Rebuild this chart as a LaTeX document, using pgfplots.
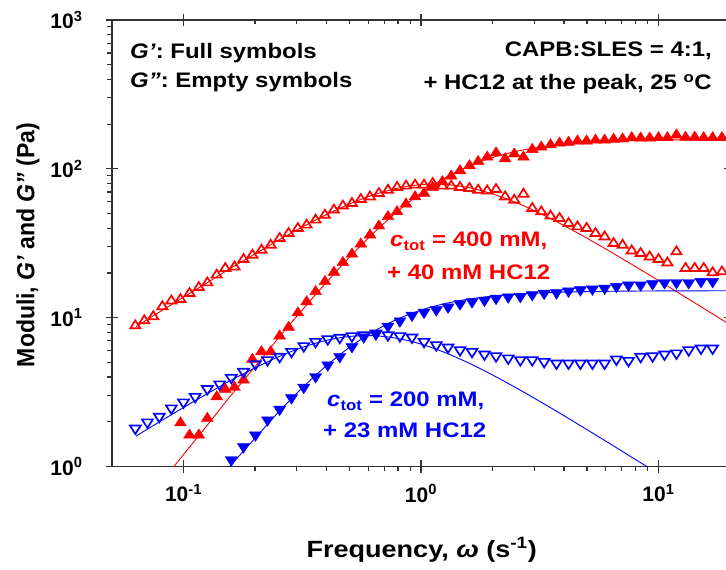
\documentclass[border=0pt]{standalone}
\usepackage{fontspec}
\setmainfont{Liberation Sans}
\usepackage{pgfplots}
\pgfplotsset{compat=1.18}
\usepackage{pgfplotstable}
\definecolor{myred}{RGB}{255,0,0}
\definecolor{myblue}{RGB}{0,0,255}
\newcommand{\fs}[1]{\fontsize{#1}{#1}\selectfont\bfseries}

\pgfplotstableread{
x y
0.0627 8.85
0.0684 9.57
0.0746 10.2
0.0815 11.9
0.0889 13.0
0.0971 13.3
0.106 14.6
0.116 16.0
0.126 17.2
0.138 19.4
0.150 21.5
0.164 22.0
0.179 24.7
0.195 26.4
0.213 28.5
0.233 30.8
0.254 34.2
0.277 36.9
0.303 39.9
0.330 42.0
0.360 45.4
0.394 49.0
0.430 53.0
0.469 56.4
0.512 58.7
0.558 62.5
0.610 65.0
0.665 68.5
0.726 72.1
0.793 75.2
0.865 76.8
0.944 78.0
1.03 78.0
1.12 80.0
1.23 76.8
1.34 76.8
1.46 75.2
1.60 74.1
1.74 72.1
1.90 71.3
2.07 72.9
2.26 65.0
2.47 61.8
2.70 67.8
2.94 54.4
3.21 51.6
3.51 48.3
3.83 46.6
4.18 43.1
4.56 40.9
4.98 39.9
5.43 36.9
5.93 35.0
6.47 31.6
7.06 30.8
7.71 28.2
8.41 27.1
9.18 25.7
10.0 24.7
10.9 23.4
11.9 27.8
13.0 21.5
14.2 21.5
15.5 21.5
16.9 20.1
18.5 20.4
}\redGpp

\pgfplotstableread{
x y
0.0971 1.97
0.106 1.63
0.116 1.63
0.126 2.11
0.138 2.95
0.150 3.31
0.164 3.41
0.179 3.82
0.195 5.26
0.213 5.92
0.233 5.92
0.254 7.55
0.277 8.64
0.303 10.8
0.330 12.8
0.360 15.0
0.394 17.5
0.430 20.2
0.469 23.5
0.512 26.8
0.558 31.3
0.610 36.0
0.665 41.4
0.726 47.8
0.793 51.6
0.865 58.1
0.944 65.0
1.03 68.6
1.12 75.2
1.23 82.0
1.34 89.6
1.46 97.2
1.60 105
1.74 112
1.90 120
2.07 128
2.26 117
2.47 126
2.70 120
2.94 135
3.21 140
3.51 145
3.83 149
4.18 151
4.56 154
4.98 154
5.43 156
5.93 156
6.47 158
7.06 159
7.71 162
8.41 161
9.18 161
10.0 162
10.9 162
11.9 169
13.0 163
14.2 163
15.5 162
16.9 162
18.5 162
}\redGp

\pgfplotstableread{
x y
0.0627 1.81
0.0705 1.99
0.0791 2.17
0.0889 2.47
0.100 2.71
0.112 2.95
0.126 3.33
0.142 3.58
0.159 3.96
0.179 4.35
0.201 4.89
0.226 5.21
0.254 5.48
0.285 5.92
0.321 6.47
0.360 6.91
0.405 7.20
0.455 7.37
0.512 7.55
0.574 7.66
0.646 7.87
0.726 7.66
0.815 7.55
0.916 7.40
1.03 6.91
1.16 6.57
1.30 6.34
1.46 6.08
1.64 5.92
1.85 5.69
2.07 5.54
2.33 5.35
2.62 5.21
2.94 5.21
3.30 5.07
3.72 4.95
4.18 4.95
4.69 4.95
5.27 4.95
5.93 4.95
6.65 5.26
7.48 5.15
8.41 5.48
9.44 5.54
10.6 5.69
11.9 5.78
13.4 6.08
15.1 6.24
16.9 6.24
}\blueGpp

\pgfplotstableread{
x y
0.159 1.11
0.179 1.36
0.201 1.63
0.226 2.06
0.254 2.43
0.285 2.90
0.321 3.41
0.360 4.02
0.405 4.82
0.455 5.48
0.512 6.40
0.574 7.43
0.646 7.78
0.726 8.77
0.815 9.52
0.916 10.4
1.03 10.9
1.16 11.3
1.30 11.8
1.46 12.4
1.64 12.8
1.85 13.1
2.07 13.5
2.33 13.8
2.62 13.9
2.94 14.3
3.30 14.6
3.72 14.7
4.18 15.1
4.69 15.4
5.27 15.6
5.93 15.8
6.65 16.2
7.48 16.6
8.41 16.6
9.44 16.9
10.6 17.2
11.9 17.2
13.4 17.2
15.1 17.5
16.9 17.5
}\blueGp

\pgfplotstableread{
x gp gpp
0.0631 0.482 8.71
0.0794 0.764 10.96
0.1 1.206 13.75
0.126 1.903 17.23
0.158 2.995 21.55
0.2 4.694 26.83
0.251 7.313 33.20
0.316 11.28 40.69
0.398 17.17 49.16
0.501 25.58 58.20
0.631 37.04 66.94
0.794 51.62 74.10
1.0 68.69 78.33
1.259 86.80 78.61
1.585 104.1 74.90
1.995 119.1 68.07
2.512 131.0 59.47
3.162 139.8 50.42
3.981 146.0 41.82
5.012 150.2 34.17
6.31 153.0 27.65
7.943 154.8 22.22
10.0 156.0 17.79
12.59 156.7 14.19
15.85 157.2 11.31
19.95 157.5 9.00
}\redfit

\pgfplotstableread{
x gp gpp
0.0631 0.171 1.604
0.0794 0.269 2.005
0.1 0.422 2.497
0.126 0.659 3.094
0.158 1.018 3.799
0.2 1.553 4.603
0.251 2.322 5.468
0.316 3.379 6.320
0.398 4.738 7.041
0.501 6.352 7.497
0.631 8.090 7.586
0.794 9.779 7.280
1.0 11.26 6.660
1.259 12.45 5.850
1.585 13.34 4.979
1.995 13.97 4.141
2.512 14.40 3.391
3.162 14.69 2.747
3.981 14.87 2.210
5.012 14.99 1.769
6.31 15.07 1.413
7.943 15.12 1.125
10.0 15.15 0.896
12.59 15.17 0.713
15.85 15.18 0.567
19.95 15.19 0.450
}\bluefit

\begin{document}
\begin{tikzpicture}[x=1pt,y=1pt]
\useasboundingbox (0,0) rectangle (726,570);
% major ticks crossing the axis lines
\begin{loglogaxis}[at={(112pt,103.3pt)}, anchor=south west,
  scale only axis, width=618pt, height=446.7pt,
  xmin=0.05, xmax=20, ymin=1, ymax=1000,
  axis line style={line width=1.2pt, black!80},
  every tick/.style={line width=1.1pt, black!80},
  xtick={0.1,1,10}, ytick={1,10,100,1000},
  tick align=center, major tick length=13pt, minor tick length=0pt,
  xticklabels={}, yticklabels={}]
\end{loglogaxis}
% minor ticks inside on top and right
\begin{loglogaxis}[at={(112pt,103.3pt)}, anchor=south west,
  scale only axis, width=618pt, height=446.7pt,
  xmin=0.05, xmax=20, ymin=1, ymax=1000,
  axis line style={line width=1.2pt, black!80},
  every tick/.style={line width=1.1pt, black!80},
  xtick={0.1,1,10}, ytick={1,10,100,1000},
  xtick pos=right, ytick pos=right, tick align=inside,
  major tick length=0pt, minor tick length=4.5pt, xticklabels={}, yticklabels={}]
\end{loglogaxis}
% main axis with data
\begin{loglogaxis}[at={(112pt,103.3pt)}, anchor=south west,
  scale only axis, width=618pt, height=446.7pt,
  xmin=0.05, xmax=20, ymin=1, ymax=1000,
  axis line style={line width=1.2pt, black!80},
  every tick/.style={line width=1.1pt, black!80},
  xtick={0.1,1,10}, ytick={1,10,100,1000},
  xtick pos=left, ytick pos=left, tick align=outside,
  major tick length=0pt, minor tick length=4.5pt,
  xticklabels={10\textsuperscript{-1},10\textsuperscript{0},10\textsuperscript{1}},
  yticklabels={10\textsuperscript{0},10\textsuperscript{1},10\textsuperscript{2},10\textsuperscript{3}},
  xticklabel style={font=\fs{21}, anchor=north, yshift=-14pt},
  yticklabel style={font=\fs{21}, anchor=east, xshift=-26pt},
]
\addplot[myred, line width=0.9pt, smooth, no marks] table[x=x, y=gp] {\redfit};
\addplot[myred, line width=0.9pt, smooth, no marks] table[x=x, y=gpp] {\redfit};
\addplot[myblue, line width=0.9pt, smooth, no marks] table[x=x, y=gp] {\bluefit};
\addplot[myblue, line width=0.9pt, smooth, no marks] table[x=x, y=gpp] {\bluefit};

\addplot[only marks, mark=triangle, mark size=5.3pt, mark options={myred, line width=1.7pt, xscale=1.1}] table {\redGpp};
\addplot[only marks, mark=triangle*, mark size=6.2pt, mark options={myred, fill=myred, xscale=1.1}] table {\redGp};
\addplot[only marks, mark=triangle, mark size=5.7pt, mark options={myblue, line width=1.7pt, rotate=180, xscale=1.1}] table {\blueGpp};
\addplot[only marks, mark=triangle*, mark size=6.4pt, mark options={myblue, fill=myblue, rotate=180, xscale=1.1}] table {\blueGp};
\end{loglogaxis}

% annotations
\tikzset{ann/.style={font=\fs{21}, inner sep=0, xscale=1.14}}
\node[ann, anchor=base west] at (130,511) {\textit{G'}: Full symbols};
\node[ann, anchor=base west] at (130,482) {\textit{G''}: Empty symbols};
\node[ann, anchor=base east] at (712,513) {CAPB:SLES = 4:1,};
\node[ann, anchor=base east] at (712,480) {+ HC12 at the peak, 25 \textsuperscript{o}C};
\node[ann, anchor=base west, text=myred] at (390,323) {\textit{c}\textsubscript{tot} = 400 mM,};
\node[ann, anchor=base west, text=myred] at (387,290) {+ 40 mM HC12};
\node[ann, anchor=base west, text=myblue] at (327,163) {\textit{c}\textsubscript{tot} = 200 mM,};
\node[ann, anchor=base west, text=myblue] at (323,132) {+ 23 mM HC12};
% axis titles
\node[rotate=90, font=\fs{23}, inner sep=0, yscale=1.08] at (28,325) {Moduli, \textit{G'} and \textit{G''} (Pa)};
\node[anchor=base, font=\fs{23.5}, inner sep=0, xscale=1.15] at (421.7,12) {Frequency, \textit{ω} (s\textsuperscript{-1})};
\end{tikzpicture}
\end{document}
